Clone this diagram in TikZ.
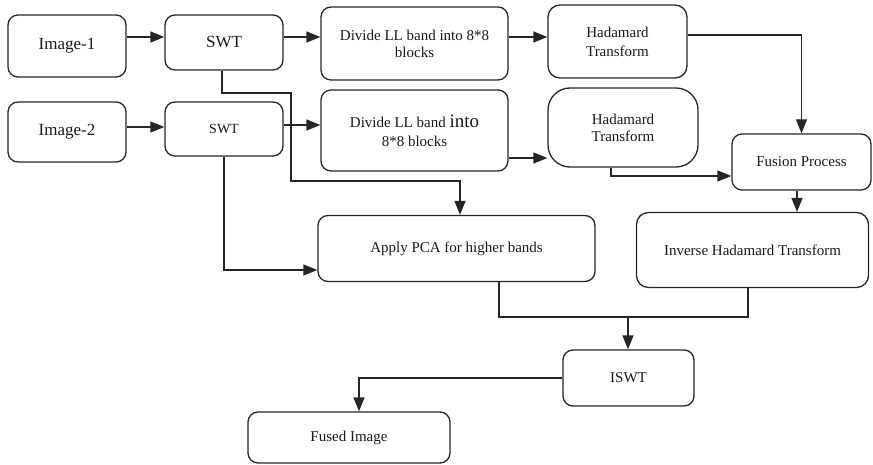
\documentclass[tikz,border=0pt]{standalone}
\usepackage{fontspec}
\setmainfont{Liberation Serif}
\usetikzlibrary{arrows.meta}
\begin{document}
\begin{tikzpicture}[x=1pt,y=-1pt,
  box/.style={draw=black!85, line width=1.3pt, rounded corners=10pt, inner sep=2pt,
    align=center, text=black!90, font=\fontsize{15}{17}\selectfont},
  big/.style={font=\fontsize{17}{20}\selectfont},
  conn/.style={draw=black!85, line width=1.3pt},
  arr/.style={conn, -{Triangle[length=14pt,width=11pt]}}
]
\useasboundingbox (0,0) rectangle (873,465);

% first input row
\node[box, big, minimum width=118pt, minimum height=62pt] (img1) at (67,46) {Image-1};
\node[box, big, minimum width=118pt, minimum height=55pt] (swt1) at (224,42.5) {SWT};
\node[box, minimum width=187pt, minimum height=73pt] (div1) at (414.5,43.5)
  {Divide LL band into 8*8\\blocks};
\node[box, minimum width=139pt, minimum height=73pt, rounded corners=12pt,
  font=\fontsize{15}{19}\selectfont] (had1) at (617.5,41.5) {Hadamard\\Transform};

% second input row
\node[box, big, minimum width=118pt, minimum height=60pt] (img2) at (67,132) {Image-2};
\node[box, minimum width=118pt, minimum height=54pt, font=\fontsize{14}{16}\selectfont]
  (swt2) at (224,129) {SWT};
\node[box, minimum width=187pt, minimum height=81pt, font=\fontsize{15}{19}\selectfont]
  (div2) at (414.5,130.5) {Divide LL band {\fontsize{19}{19}\selectfont into}\\8*8 blocks};
\node[box, minimum width=150pt, minimum height=79pt, rounded corners=22pt]
  (had2) at (623,127.5) {Hadamard\\Transform};

% fusion and reconstruction
\node[box, minimum width=139pt, minimum height=56pt] (fus) at (801.5,162) {Fusion Process};
\node[box, minimum width=277pt, minimum height=66pt] (pca) at (456.5,248.5) {Apply PCA for higher bands};
\node[box, minimum width=232pt, minimum height=75pt, rounded corners=12pt]
  (iht) at (752.5,250) {Inverse Hadamard Transform};
\node[box, minimum width=131pt, minimum height=56pt] (iswt) at (628.5,378) {ISWT};
\node[box, minimum width=202pt, minimum height=51pt] (fused) at (349,437.5) {Fused Image};

% connectors
\draw[arr] (img1.east |- 0,37) -- (swt1.west |- 0,37);
\draw[arr] (swt1.east |- 0,37) -- (div1.west |- 0,37);
\draw[arr] (div1.east |- 0,37) -- (had1.west |- 0,37);
\draw[arr] (had1.east |- 0,35) -| (fus.north);

\draw[arr] (img2.east |- 0,127) -- (swt2.west |- 0,127);
\draw[arr] (swt2.east |- 0,125) -- (div2.west |- 0,125);
\draw[arr] (div2.east |- 0,158) -- (had2.west |- 0,158);
\draw[arr] ([xshift=-12pt]had2.south) |- ([yshift=-14pt]fus.west);

\draw[arr] ([xshift=-2pt]swt1.south) |- (291,93) |- (460,181) -- (pca.north -| 460,0);
\draw[arr] (swt2.south) |- (pca.west |- 0,270);

\draw[arr] (fus.south -| 797,0) -- (iht.north -| 797,0);

\coordinate (join) at (628,317);
\draw[conn] (pca.south -| 499,0) |- (748,317) -- (iht.south -| 748,0);
\draw[arr] (join) -- (iswt.north -| join);
\draw[arr] (iswt.west) -| ([xshift=10pt]fused.north);
\end{tikzpicture}
\end{document}
